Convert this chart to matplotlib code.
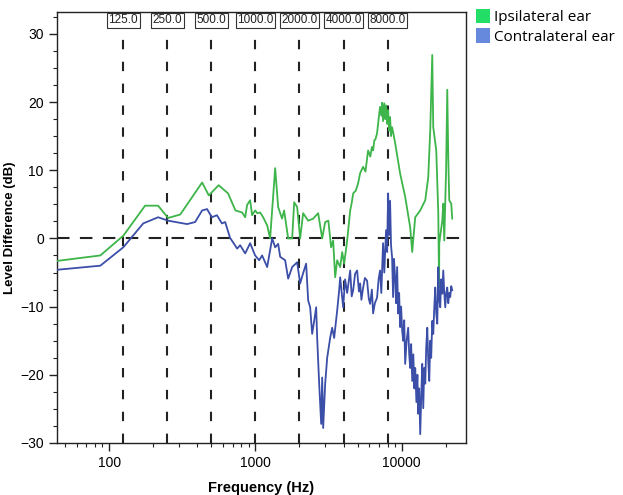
import matplotlib
matplotlib.use("Agg")
import matplotlib.pyplot as plt
from matplotlib.patches import Patch
from matplotlib.ticker import FixedLocator, NullFormatter

plt.rcParams['font.family'] = ['Liberation Sans', 'DejaVu Sans']

# ---- data ----
ipsi_freq = [44, 87, 125, 176, 216, 253, 306, 432, 480, 560, 650, 730, 811, 851, 877, 920,
             949, 995, 1030, 1077, 1129, 1203, 1260, 1364, 1430, 1520, 1570, 1674, 1783, 1840,
             1928, 2021, 2118, 2293, 2480, 2684, 2859, 2997, 3150, 3290, 3398, 3507, 3619,
             3795, 3916, 4041, 4237, 4442, 4550, 4657, 4850, 5035, 5200, 5448, 5650, 5890,
             6100, 6250, 6373, 6500, 6600, 6781, 6950, 7110, 7250, 7350, 7454, 7600, 7700,
             7815, 7940, 8066, 8200, 8325, 8450, 8593, 8800, 9011, 9754,
             10558, 11425, 11793, 12364, 13379, 14482, 15183, 15665, 16169, 16424, 17219,
             17776, 18000, 18054, 18930, 19228, 19531, 20100, 20477, 20800, 21128, 21799, 22141]
ipsi_db = [-3.3, -2.5, 0.4, 4.8, 4.8, 3.0, 3.5, 8.2, 6.3, 7.8, 6.6, 4.1, 3.8, 3.1, 4.9, 5.6,
           3.4, 4.1, 3.7, 3.8, 3.1, 1.9, 0.0, 10.3, 4.6, 2.9, 4.1, 0.0, 0.0, 5.3,
           4.6, 0.0, 3.7, 2.6, 2.9, 3.7, 0.0, 2.4, 2.6, -1.3, -0.3, -5.7, -3.2,
           -4.2, -2.0, -3.7, -0.3, 4.1, 5.2, 6.6, 7.0, 8.1, 9.6, 10.5, 9.8, 12.9,
           12.0, 13.4, 12.9, 14.4, 14.5, 15.4, 17.5, 19.3, 18.0, 19.9, 17.2, 19.8, 17.5,
           19.5, 16.8, 18.8, 15.8, 17.8, 15.0, 16.3, 15.2, 14.0, 9.5,
           6.1, 1.6, -2.0, 3.1, 4.1, 5.6, 9.0, 15.9, 26.9, 16.3, 12.9,
           3.7, -7.2, -0.7, 2.6, 5.1, -0.3, 10.0, 21.8, 11.9, 5.6, 5.1, 2.9]

contra_freq = [44, 87, 125, 171, 216, 253, 341, 387, 432, 467, 503, 545, 590, 621, 670, 750,
               786, 851, 920, 995, 1060, 1111, 1203, 1301, 1364, 1430, 1476, 1596, 1674, 1783,
               1928, 2021, 2118, 2221, 2293, 2366, 2442, 2520, 2600, 2642, 2727, 2814, 2859,
               2904, 2997, 3093, 3241, 3345, 3452, 3619, 3735, 3795, 3978, 4100, 4237, 4442,
               4550, 4657, 4800, 4956, 5100, 5197, 5300, 5448, 5600, 5797, 5950, 6079, 6250,
               6373, 6550, 6781, 6950, 7110, 7250, 7454, 7600, 7815, 7950, 8066, 8200, 8325,
               8450, 8593, 8730, 8850, 9011, 9150, 9301, 9450, 9600, 9754, 9900, 10068, 10229,
               10400, 10558, 10800, 11069, 11250, 11425, 11600, 11793, 12000, 12200, 12364,
               12600, 12800, 12962, 13150, 13379, 13600, 13810, 14030, 14250, 14482, 14700,
               14948, 15183, 15422, 15665, 15900, 16169, 16424, 16700, 16952, 17219, 17498,
               17776, 18054, 18339, 18600, 18930, 19228, 19531, 19839, 20150, 20477, 20800,
               21128, 21461, 21799, 22141]
contra_db = [-4.6, -4.0, -1.3, 2.2, 3.1, 2.6, 2.1, 2.4, 4.1, 4.3, 3.1, 3.4, 2.2, 2.4, 0.1, -1.5,
             -1.0, -2.2, -0.7, -2.5, -3.2, -2.5, -4.2, 0.0, -1.3, -0.8, -2.7, -3.2, -5.9, -4.2,
             -3.5, -6.6, -5.1, -3.7, -9.1, -10.1, -14.0, -12.1, -10.1, -14.6, -21.3, -27.2, -20.4,
             -27.8, -21.3, -17.5, -14.6, -13.1, -14.6, -10.6, -7.6, -5.7, -10.1, -6.0, -8.0, -4.7,
             -8.5, -7.6, -5.2, -4.7, -7.8, -6.6, -9.0, -7.2, -5.8, -6.2, -8.8, -9.6, -7.5,
             -11.0, -9.5, -8.7, -6.0, -4.7, -8.0, -0.7, -5.0, 1.2, -2.0, 6.6, 0.5, 5.5,
             -1.0, -2.8, -8.6, -3.0, -5.7, -9.5, -4.2, -11.0, -8.0, -13.0, -10.0, -13.5, -15.0,
             -12.0, -18.4, -15.0, -13.1, -17.0, -19.0, -15.5, -20.9, -17.0, -22.0, -19.0,
             -24.0, -20.0, -25.7, -22.0, -28.7, -23.0, -18.4, -24.9, -19.0, -21.3, -16.0,
             -13.1, -18.0, -20.9, -15.0, -17.5, -12.1, -14.0, -10.0, -7.2, -11.0, -12.5,
             -4.2, -9.0, -10.1, -6.0, -8.1, -4.7, -8.0, -10.1, -8.0, -7.2, -9.5,
             -8.0, -8.6, -7.0, -7.6]

ref_freqs = [125, 250, 500, 1000, 2000, 4000, 8000]
ref_labels = ["125.0", "250.0", "500.0", "1000.0", "2000.0", "4000.0", "8000.0"]
series_names = ["Ipsilateral ear", "Contralateral ear"]
line_colors = ["#3db54a", "#3b4ea8"]
legend_colors = ["#22dd66", "#6688dd"]

# ---- figure ----
fig = plt.figure(figsize=(6.23, 4.95), dpi=100)
ax = fig.add_axes([57 / 623, 52 / 495, 409 / 623, 431 / 495])

ax.plot(ipsi_freq, ipsi_db, color=line_colors[0], lw=1.3, zorder=3)
ax.plot(contra_freq, contra_db, color=line_colors[1], lw=1.3, zorder=3)

for f, lab in zip(ref_freqs, ref_labels):
    ax.axvline(f, color="#222222", ls=(0, (4.5, 6)), lw=1.5, zorder=2)
    ax.text(f, 0.981, lab, transform=ax.get_xaxis_transform(), ha="center", va="center",
            fontsize=8.5, color="#222222",
            bbox=dict(boxstyle="square,pad=0.12", fc="white", ec="#333333", lw=0.8), zorder=5)
ax.axhline(0, color="#222222", ls=(0, (6, 5)), lw=1.5, zorder=2)

ax.set_xscale("log")
ax.set_xlim(44, 27500)
ax.set_ylim(-30, 33.2)

ax.xaxis.set_major_locator(FixedLocator([100, 1000, 10000]))
ax.set_xticklabels(["100", "1000", "10000"])
minors = [m * d for d in (10, 100, 1000, 10000) for m in range(2, 10)]
ax.xaxis.set_minor_locator(FixedLocator(minors))
ax.xaxis.set_minor_formatter(NullFormatter())
ax.set_yticks([-30, -20, -10, 0, 10, 20, 30])
ax.yaxis.set_minor_locator(FixedLocator([v / 2 for v in range(-60, 67, 5)]))
ax.tick_params(which="major", direction="out", length=6, width=1, labelsize=10, color="#222222")
ax.tick_params(which="minor", direction="out", length=3, width=0.8, color="#222222")
for s in ax.spines.values():
    s.set_color("#222222")
    s.set_linewidth(1.0)

ax.set_ylabel("Level Difference (dB)", fontsize=9.5, fontweight="bold", labelpad=3)
ax.set_xlabel("Frequency (Hz)", fontsize=10.5, fontweight="bold", labelpad=8)

handles = [Patch(facecolor=c, edgecolor="none") for c in legend_colors]
fig.legend(handles, series_names, loc="upper left", bbox_to_anchor=(470 / 623, 0.995),
           frameon=False, handlelength=0.9, handleheight=1.1,
           handletextpad=0.3, labelspacing=0.2, borderaxespad=0.0,
           prop={'family': ['Open Sans', 'DejaVu Sans'], 'size': 11})

fig.savefig("out.png", dpi=100)
